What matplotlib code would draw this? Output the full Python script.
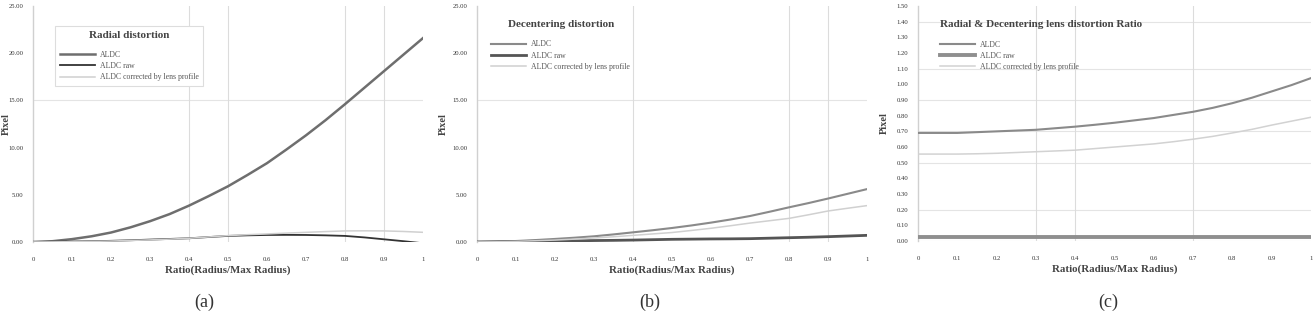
import matplotlib
matplotlib.use('Agg')
import matplotlib.pyplot as plt
import numpy as np

plt.rcParams['font.family'] = ['Liberation Serif', 'DejaVu Serif']

ratio = [0, 0.05, 0.1, 0.15, 0.2, 0.25, 0.3, 0.35, 0.4, 0.45, 0.5,
         0.55, 0.6, 0.65, 0.7, 0.75, 0.8, 0.85, 0.9, 0.95, 1.0]
x_ticks = [0, 0.1, 0.2, 0.3, 0.4, 0.5, 0.6, 0.7, 0.8, 0.9, 1.0]
x_labels = ['0', '0.1', '0.2', '0.3', '0.4', '0.5', '0.6', '0.7', '0.8', '0.9', '1']

# (a) radial distortion
radial_aldc = [0, 0.08, 0.3, 0.6, 1.0, 1.55, 2.2, 2.95, 3.85, 4.85, 5.9,
               7.1, 8.35, 9.8, 11.3, 12.9, 14.6, 16.35, 18.1, 19.85, 21.6]
radial_raw = [0, 0.02, 0.05, 0.08, 0.12, 0.18, 0.25, 0.32, 0.39, 0.52, 0.64,
              0.7, 0.74, 0.75, 0.74, 0.7, 0.64, 0.48, 0.28, 0.08, -0.14]
radial_corr = [0, 0.01, 0.03, 0.06, 0.1, 0.16, 0.22, 0.3, 0.39, 0.53, 0.67,
               0.77, 0.85, 0.94, 1.02, 1.1, 1.17, 1.18, 1.17, 1.11, 1.02]

# (b) decentering distortion
decen_aldc = [0, 0.03, 0.1, 0.2, 0.32, 0.45, 0.6, 0.8, 1.02, 1.24, 1.48,
              1.75, 2.05, 2.38, 2.75, 3.2, 3.67, 4.12, 4.6, 5.1, 5.6]
decen_raw = [0, 0.02, 0.05, 0.07, 0.1, 0.12, 0.15, 0.17, 0.2, 0.24, 0.28,
             0.3, 0.32, 0.33, 0.35, 0.4, 0.45, 0.5, 0.56, 0.63, 0.7]
decen_corr = [0, 0.02, 0.07, 0.13, 0.2, 0.3, 0.42, 0.55, 0.7, 0.85, 1.0,
              1.22, 1.45, 1.72, 2.0, 2.25, 2.5, 2.88, 3.28, 3.57, 3.85]

# (c) ratio
ratio_aldc = [0.69, 0.69, 0.69, 0.695, 0.70, 0.705, 0.71, 0.72, 0.73, 0.742, 0.755,
              0.77, 0.785, 0.805, 0.825, 0.85, 0.88, 0.915, 0.955, 0.995, 1.04]
ratio_raw = [0.025] * 21
ratio_corr = [0.555, 0.555, 0.555, 0.557, 0.56, 0.565, 0.57, 0.575, 0.58, 0.59, 0.60,
              0.61, 0.62, 0.634, 0.65, 0.668, 0.69, 0.713, 0.74, 0.765, 0.79]

series_labels = ['ALDC', 'ALDC raw', 'ALDC corrected by lens profile']
captions = ['(a)', '(b)', '(c)']

fig = plt.figure(figsize=(13.16, 3.11), dpi=100)

panels = [
    dict(rect=[0.0251, 0.222, 0.2964, 0.759], data=(radial_aldc, radial_raw, radial_corr),
         yticks=np.arange(0, 25.01, 5), ylim=(0, 25),
         styles=[('#6e6e6e', 1.8), ('#333333', 1.3), ('#d0d0d0', 1.1)],
         title='Radial distortion', hgrid=[15], vgrid=[0.4, 0.5, 0.8, 0.9],
         legbox=True, leg_anchor=(0.047, 0.93), align='center', cap_x=0.438, ylab_x=-0.058),
    dict(rect=[0.3625, 0.222, 0.2964, 0.759], data=(decen_aldc, decen_raw, decen_corr),
         yticks=np.arange(0, 25.01, 5), ylim=(0, 25),
         styles=[('#8a8a8a', 1.5), ('#555555', 2.0), ('#d0d0d0', 1.1)],
         title='Decentering distortion', hgrid=[15], vgrid=[0.4, 0.8, 0.9],
         legbox=False, leg_anchor=(0.015, 0.975), align='center', cap_x=0.443, ylab_x=-0.075),
    dict(rect=[0.6976, 0.225, 0.2986, 0.7556], data=(ratio_aldc, ratio_raw, ratio_corr),
         yticks=np.arange(0, 1.501, 0.1), ylim=(0, 1.5),
         styles=[('#8a8a8a', 1.5), ('#8f8f8f', 2.8), ('#d2d2d2', 1.1)],
         title='Radial & Decentering lens distortion Ratio', hgrid=[0.0, 0.2, 0.5, 0.7, 0.9, 1.1, 1.4],
         vgrid=[0.3, 0.4, 0.7], legbox=False, leg_anchor=(0.035, 0.975), align='left', cap_x=0.485,
         ylab_x=-0.075),
]

for p, cap in zip(panels, captions):
    ax = fig.add_axes(p['rect'])
    for yv in p['hgrid']:
        ax.axhline(yv, color='#e4e4e4', lw=0.8, zorder=0)
    for xv in p['vgrid']:
        ax.axvline(xv, color='#dcdcdc', lw=0.8, zorder=0)
    handles = []
    for vals, (col, lw), lab in zip(p['data'], p['styles'], series_labels):
        h, = ax.plot(ratio, vals, color=col, lw=lw, label=lab, zorder=3)
        handles.append(h)
    ax.set_xlim(0, 1)
    ax.set_ylim(*p['ylim'])
    ax.set_xticks(x_ticks)
    ax.set_xticklabels(x_labels)
    ax.set_yticks(p['yticks'])
    ax.set_yticklabels(['{:.2f}'.format(v) for v in p['yticks']])
    ax.tick_params(length=0, labelsize=4.8, colors='#333333')
    ax.tick_params(axis='x', pad=11)
    ax.tick_params(axis='y', pad=7)
    for s in ['top', 'right', 'bottom']:
        ax.spines[s].set_visible(False)
    ax.spines['left'].set_color('#d0d0d0')
    ax.spines['left'].set_linewidth(1.0)
    ax.set_xlabel('Ratio(Radius/Max Radius)', fontsize=7.8, fontweight='bold', color='#444444', labelpad=2)
    ax.set_ylabel('Pixel', fontsize=7.5, fontweight='bold', color='#444444')
    ax.yaxis.set_label_coords(p['ylab_x'], 0.5)
    leg = ax.legend(handles=handles, title=p['title'], loc='upper left', bbox_to_anchor=p['leg_anchor'],
                    fontsize=5.6, title_fontproperties={'size': 8, 'weight': 'bold'},
                    frameon=p['legbox'], fancybox=False, handlelength=4.5, handletextpad=0.6,
                    labelspacing=0.4, borderpad=0.6, framealpha=1, alignment=p['align'])
    leg._legend_box.sep = 8
    leg.get_title().set_color('#444444')
    for t in leg.get_texts():
        t.set_color('#555555')
    if p['legbox']:
        leg.get_frame().set_edgecolor('#dddddd')
        leg.get_frame().set_linewidth(0.8)
    fig.text(p['rect'][0] + p['rect'][2] * p['cap_x'], 0.0, cap, ha='center', va='bottom',
             fontsize=13, color='#333333')

fig.savefig('out.png', dpi=100)
